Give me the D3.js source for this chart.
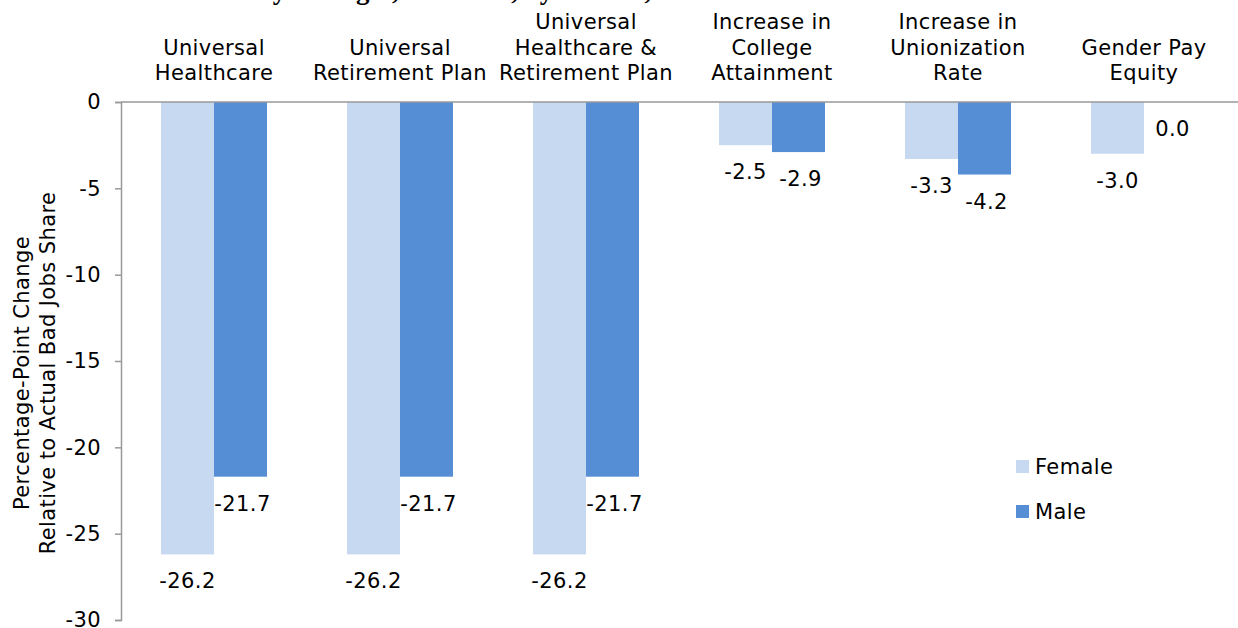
<!DOCTYPE html>
<html>
<head>
<meta charset="utf-8">
<script src="https://cdn.jsdelivr.net/npm/d3@7/dist/d3.min.js"></script>
<style>
  html, body { margin: 0; padding: 0; background: #fff; }
  svg { display: block; }
  text { font-family: "DejaVu Sans", Verdana, sans-serif; fill: #000; font-size: 21px; letter-spacing: 0.4px; }
</style>
</head>
<body>
<svg id="chart" width="1238" height="628"></svg>
<script>
// Policy scenarios (multi-line headers drawn above the zero line)
const categories = [
  ["Universal", "Healthcare"],
  ["Universal", "Retirement Plan"],
  ["Universal", "Healthcare &", "Retirement Plan"],
  ["Increase in", "College", "Attainment"],
  ["Increase in", "Unionization", "Rate"],
  ["Gender Pay", "Equity"]
];
const seriesNames = ["Female", "Male"];
const femaleValues = [-26.2, -26.2, -26.2, -2.5, -3.3, -3.0];
const maleValues   = [-21.7, -21.7, -21.7, -2.9, -4.2, 0.0];
const yTicks = [0, -5, -10, -15, -20, -25, -30];
const colors = { Female: "#C6D9F1", Male: "#558ED5" };

// Plain hyphen for negative numbers
const locale = d3.formatLocale({ decimal: ".", thousands: ",", grouping: [3], currency: ["$", ""], minus: "-" });
const fmtVal = locale.format(".1f");
const fmtTick = locale.format("d");

const svg = d3.select("#chart");
const W = 1238;
const plotLeft = 121, plotRight = 1237, plotTop = 102, plotBottom = 620;

const x0 = d3.scaleBand().domain(d3.range(categories.length)).range([plotLeft, plotRight]);
const step = x0.step();
const pairW = 106;
const inner = d3.scaleBand().domain(seriesNames).range([0, pairW]);

const y = d3.scaleLinear().domain([0, -30]).range([plotTop, plotBottom]);

// Title strip, mostly above the top edge
svg.append("text")
  .attr("x", -13).attr("y", -1)
  .style("font-family", "'Liberation Serif', 'Times New Roman', serif")
  .style("font-weight", "bold")
  .style("font-size", "27px")
  .style("letter-spacing", "0px")
  .text("Simulated Effect of Policy Changes, Bad Jobs, by Gender, 2010");

// Y axis
const yAxis = d3.axisLeft(y).tickValues(yTicks).tickSize(6).tickPadding(14)
  .tickFormat(fmtTick);
const gy = svg.append("g").attr("transform", `translate(${plotLeft},0)`).call(yAxis);
gy.select(".domain").attr("stroke", "#999").attr("stroke-width", 1.5);
gy.selectAll(".tick line").attr("stroke", "#999").attr("stroke-width", 1.5);
gy.selectAll(".tick text")
  .style("font-size", "21px")
  .style("font-family", "'DejaVu Sans', Verdana, sans-serif")
  .attr("fill", "#000");

// Bars
const data = categories.map((c, i) => ({ i, Female: femaleValues[i], Male: maleValues[i] }));
const groups = svg.append("g").selectAll("g").data(data).join("g")
  .attr("transform", d => `translate(${x0(d.i) + (step - pairW) / 2},0)`);

groups.selectAll("rect").data(d => seriesNames.map(s => ({ s, v: d[s] }))).join("rect")
  .attr("x", d => inner(d.s))
  .attr("width", inner.bandwidth())
  .attr("y", d => y(0))
  .attr("height", d => y(d.v) - y(0))
  .attr("fill", d => colors[d.s]);

// Value labels under each bar end
groups.selectAll("text.val").data(d => seriesNames.map(s => ({ s, v: d[s] }))).join("text")
  .attr("class", "val")
  .attr("x", d => inner(d.s) + inner.bandwidth() / 2 + (d.s === "Male" ? 2 : 0))
  .attr("y", d => y(d.v) + 34)
  .attr("text-anchor", "middle")
  .text(d => fmtVal(d.v));

// Zero line across the plot
svg.append("line")
  .attr("x1", plotLeft).attr("x2", W)
  .attr("y1", y(0)).attr("y2", y(0))
  .attr("stroke", "#999").attr("stroke-width", 1.5);

// Category headers
const heads = svg.append("g").selectAll("text").data(categories).join("text")
  .attr("text-anchor", "middle")
  .attr("x", (d, i) => x0(i) + step / 2);
heads.each(function(lines) {
  const t = d3.select(this);
  const n = lines.length;
  lines.forEach((ln, k) => {
    t.append("tspan")
      .attr("x", t.attr("x"))
      .attr("y", 80 - (n - 1 - k) * 25.5)
      .text(ln);
  });
});

// Y axis title
const yt = svg.append("text")
  .attr("transform", "translate(0,373) rotate(-90)")
  .attr("text-anchor", "middle");
yt.append("tspan").attr("x", 0).attr("y", 29).text("Percentage-Point Change");
yt.append("tspan").attr("x", 0).attr("y", 55).text("Relative to Actual Bad Jobs Share");

// Legend
const legend = svg.append("g").selectAll("g").data(seriesNames).join("g")
  .attr("transform", (d, i) => `translate(1016,${460 + i * 45})`);
legend.append("rect").attr("width", 13).attr("height", 13).attr("fill", d => colors[d]);
legend.append("text").attr("x", 19).attr("y", 14).text(d => d);
</script>
</body>
</html>
